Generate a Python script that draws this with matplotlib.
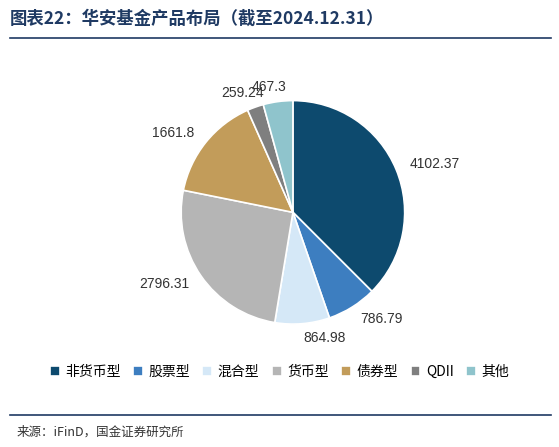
import matplotlib
matplotlib.use("Agg")
import matplotlib.pyplot as plt
from matplotlib.lines import Line2D

plt.rcParams['font.family'] = ['Noto Sans CJK SC', 'DejaVu Sans']

categories = ['非货币型', '股票型', '混合型', '货币型', '债券型', 'QDII', '其他']
values = [4102.37, 786.79, 864.98, 2796.31, 1661.8, 259.24, 467.3]
labels = ['4102.37', '786.79', '864.98', '2796.31', '1661.8', '259.24', '467.3']
colors = ['#0D4A6E', '#3D7EC0', '#D5E8F7', '#B5B5B5', '#C29C5A', '#7F7F7F', '#8FC4CC']

fig = plt.figure(figsize=(5.59, 4.47), dpi=100)
ax = fig.add_axes([0.324, 0.275, 0.4, 0.5])
wedges, texts = ax.pie(values, colors=colors, startangle=90, counterclock=False,
                       labels=labels, labeldistance=1.13,
                       wedgeprops=dict(edgecolor='white', linewidth=1.2),
                       textprops=dict(fontsize=10, color='#333333',
                                      family=['Liberation Sans', 'DejaVu Sans']))
texts[5].set_ha('right')
texts[6].set_ha('left')
x5, y5 = texts[5].get_position()
texts[5].set_position((x5 + 0.12, y5))
x6, y6 = texts[6].get_position()
texts[6].set_position((x6 - 0.22, y6))
ax.set_xlim(-1, 1)
ax.set_ylim(-1, 1)
ax.set_aspect('equal')

fig.text(0.018, 0.958, '图表22：华安基金产品布局（截至2024.12.31）', fontsize=12.5,
         fontweight='bold', fontstyle='italic', color='#1F3A63', va='center')
fig.add_artist(Line2D([0.018, 0.985], [0.915, 0.915], color='#1F3A63', lw=1.2))
fig.add_artist(Line2D([0.018, 0.985], [0.072, 0.072], color='#1F3A63', lw=1.2))
fig.text(0.03, 0.033, '来源：iFinD，国金证券研究所', fontsize=9, color='#333333', va='center')

fig.legend(wedges, categories, loc='center', bbox_to_anchor=(0.5, 0.168), ncol=7,
           frameon=False, fontsize=10, handlelength=0.7, handleheight=0.7,
           handletextpad=0.4, columnspacing=0.9)
fig.savefig('out.png', dpi=100)
